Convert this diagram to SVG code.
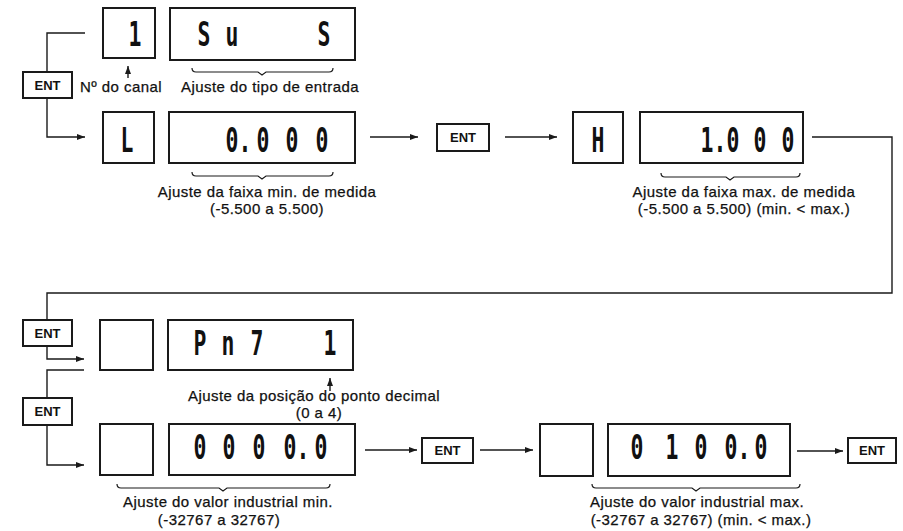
<svg xmlns="http://www.w3.org/2000/svg" width="903" height="531" viewBox="0 0 903 531">
  <style>
    .box { fill: #fff; stroke: #1a1a1a; stroke-width: 2; }
    .key { fill: #fff; stroke: #1a1a1a; stroke-width: 2; }
    .keytxt { font-family: "Liberation Sans", Arial, sans-serif; font-weight: bold; font-size: 13px; fill: #111; text-anchor: middle; }
    .seg { font-family: "DejaVu Sans Mono", monospace; font-weight: bold; font-size: 33px; fill: #111; text-anchor: middle; }
    .segl { font-family: "DejaVu Sans Mono", monospace; font-weight: bold; font-size: 33px; fill: #111; text-anchor: start; }
    .lbl { font-family: "Liberation Sans", Arial, sans-serif; font-size: 15px; letter-spacing: 0.45px; fill: #111; stroke: #111; stroke-width: 0.25; }
    .mid { text-anchor: middle; }
    .wire { fill: none; stroke: #1a1a1a; stroke-width: 1.4; }
    .brace { fill: none; stroke: #1a1a1a; stroke-width: 1.2; }
  </style>
  <defs>
    <marker id="arrow" viewBox="0 0 8 6" refX="8" refY="3" markerWidth="8" markerHeight="6" markerUnits="userSpaceOnUse" orient="auto">
      <path d="M0,0 L8,3 L0,6 z" fill="#1a1a1a"/>
    </marker>
  </defs>

  <rect width="903" height="531" fill="#fff"/>

  <!-- connectors -->
  <g id="connectors">
    <path class="wire" d="M85,33 H47 V72"/>
    <path class="wire" d="M47,98 V137 H85" marker-end="url(#arrow)"/>
    <path class="wire" d="M370,137 H418" marker-end="url(#arrow)"/>
    <path class="wire" d="M505,137 H557" marker-end="url(#arrow)"/>
    <path class="wire" d="M812,137 H892 V293 H47 V320"/>
    <path class="wire" d="M47,346 V359 H84" marker-end="url(#arrow)"/>
    <path class="wire" d="M84,370 H47 V398"/>
    <path class="wire" d="M47,425 V465 H84" marker-end="url(#arrow)"/>
    <path class="wire" d="M365,450 H417" marker-end="url(#arrow)"/>
    <path class="wire" d="M480,450 H533" marker-end="url(#arrow)"/>
    <path class="wire" d="M797,451 H843" marker-end="url(#arrow)"/>
    <path class="wire" d="M128,78 V66" marker-end="url(#arrow)"/>
    <path class="wire" d="M330,391 V378" marker-end="url(#arrow)"/>
  </g>

  <!-- keys -->
  <g id="ent-1"><rect class="key" x="23" y="72" width="49" height="26"/><text class="keytxt" x="47.5" y="90">ENT</text></g>
  <g id="ent-2"><rect class="key" x="437" y="124" width="52" height="27"/><text class="keytxt" x="463" y="142">ENT</text></g>
  <g id="ent-3"><rect class="key" x="23" y="320" width="49" height="26"/><text class="keytxt" x="47.5" y="338">ENT</text></g>
  <g id="ent-4"><rect class="key" x="23" y="398" width="49" height="27"/><text class="keytxt" x="47.5" y="416">ENT</text></g>
  <g id="ent-5"><rect class="key" x="422" y="438" width="51" height="25"/><text class="keytxt" x="447.5" y="455">ENT</text></g>
  <g id="ent-6"><rect class="key" x="848" y="438" width="48" height="25"/><text class="keytxt" x="872" y="455">ENT</text></g>

  <!-- row 1: channel and input type -->
  <g id="channel">
    <rect class="box" x="103" y="8" width="52" height="50"/>
    <text class="seg" transform="translate(135,46) scale(0.65,1)">1</text>
  </g>
  <g id="input-type">
    <rect class="box" x="170" y="8" width="185" height="52"/>
    <text class="seg" transform="translate(204,46) scale(0.65,1)">S</text>
    <text class="seg" transform="translate(232,46) scale(0.65,1)">u</text>
    <text class="seg" transform="translate(324,46) scale(0.65,1)">S</text>
    <path class="brace" d="M192,68 Q192,72 196,72 H258 L262,75 L266,72 H329 Q333,72 333,68"/>
  </g>
  <text class="lbl" x="80" y="92">Nº do canal</text>
  <text class="lbl" x="181" y="92">Ajuste do tipo de entrada</text>

  <!-- row 2: measuring range -->
  <g id="range-min">
    <rect class="box" x="103" y="112" width="51" height="51"/>
    <text class="seg" transform="translate(127,152) scale(0.65,1)">L</text>
    <rect class="box" x="169" y="112" width="186" height="51"/>
    <text class="segl" transform="translate(225.5,152) scale(0.65,1)">0.</text>
    <text class="seg" transform="translate(263,152) scale(0.65,1)">0</text>
    <text class="seg" transform="translate(292,152) scale(0.65,1)">0</text>
    <text class="seg" transform="translate(322,152) scale(0.65,1)">0</text>
    <path class="brace" d="M192,172 Q192,176 196,176 H258 L262,179 L266,176 H329 Q333,176 333,172"/>
    <text class="lbl mid" x="267" y="197">Ajuste da faixa min. de medida</text>
    <text class="lbl mid" x="267" y="214">(-5.500 a 5.500)</text>
  </g>
  <g id="range-max">
    <rect class="box" x="573" y="112" width="50" height="51"/>
    <text class="seg" transform="translate(598,152) scale(0.65,1)">H</text>
    <rect class="box" x="640" y="112" width="163" height="51"/>
    <text class="segl" transform="translate(700.5,152) scale(0.65,1)">1.</text>
    <text class="seg" transform="translate(733,152) scale(0.65,1)">0</text>
    <text class="seg" transform="translate(760,152) scale(0.65,1)">0</text>
    <text class="seg" transform="translate(788,152) scale(0.65,1)">0</text>
    <path class="brace" d="M661,173 Q661,177 665,177 H726 L730,180 L734,177 H796 Q800,177 800,173"/>
    <text class="lbl mid" x="744" y="197">Ajuste da faixa max. de medida</text>
    <text class="lbl mid" x="744" y="214">(-5.500 a 5.500) (min. &lt; max.)</text>
  </g>

  <!-- row 3: decimal point -->
  <g id="decimal-point">
    <rect class="box" x="100" y="320" width="53" height="50"/>
    <rect class="box" x="168" y="320" width="185" height="50"/>
    <text class="seg" transform="translate(200,355) scale(0.65,1)">P</text>
    <text class="seg" transform="translate(228,355) scale(0.65,1)">n</text>
    <text class="seg" transform="translate(257,355) scale(0.65,1)">7</text>
    <text class="seg" transform="translate(330,355) scale(0.65,1)">1</text>
    <text class="lbl" x="188" y="401">Ajuste da posição do ponto decimal</text>
    <text class="lbl mid" x="319" y="418">(0 a 4)</text>
  </g>

  <!-- row 4: industrial value -->
  <g id="value-min">
    <rect class="box" x="100" y="424" width="53" height="51"/>
    <rect class="box" x="169" y="424" width="186" height="51"/>
    <text class="seg" transform="translate(200,459) scale(0.65,1)">0</text>
    <text class="seg" transform="translate(229,459) scale(0.65,1)">0</text>
    <text class="seg" transform="translate(259,459) scale(0.65,1)">0</text>
    <text class="segl" transform="translate(283.5,459) scale(0.65,1)">0.</text>
    <text class="seg" transform="translate(321,459) scale(0.65,1)">0</text>
    <path class="brace" d="M117,484 Q117,488 121,488 H219 L223,491 L227,488 H326 Q330,488 330,484"/>
    <text class="lbl mid" x="228" y="507">Ajuste do valor industrial min.</text>
    <text class="lbl mid" x="219" y="525">(-32767 a 32767)</text>
  </g>
  <g id="value-max">
    <rect class="box" x="540" y="424" width="53" height="52"/>
    <rect class="box" x="608" y="424" width="182" height="52"/>
    <text class="seg" transform="translate(637,459) scale(0.65,1)">0</text>
    <text class="seg" transform="translate(672,459) scale(0.65,1)">1</text>
    <text class="seg" transform="translate(701,459) scale(0.65,1)">0</text>
    <text class="segl" transform="translate(724.5,459) scale(0.65,1)">0.</text>
    <text class="seg" transform="translate(761,459) scale(0.65,1)">0</text>
    <path class="brace" d="M592,484 Q592,488 596,488 H692 L696,491 L700,488 H796 Q800,488 800,484"/>
    <text class="lbl mid" x="697" y="507">Ajuste do valor industrial max.</text>
    <text class="lbl mid" x="701" y="525">(-32767 a 32767) (min. &lt; max.)</text>
  </g>
</svg>
